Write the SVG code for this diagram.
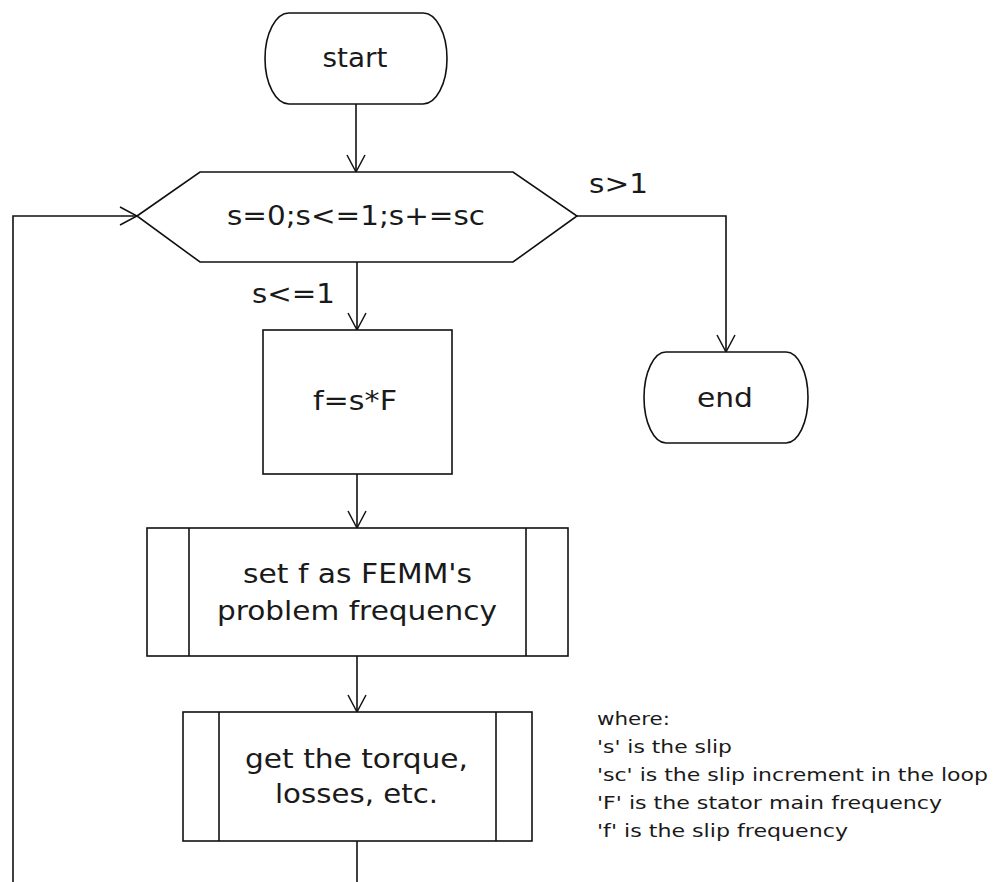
<svg xmlns="http://www.w3.org/2000/svg" width="1001" height="882" viewBox="0 0 1001 882">
<style>
  .shape { fill: #ffffff; stroke: #111111; stroke-width: 1.6; }
  .conn { fill: none; stroke: #111111; stroke-width: 1.6; }
  .lbl { font-family: "DejaVu Sans", "Liberation Sans", sans-serif; font-size: 27px; fill: #1a1a1a; text-anchor: middle; }
  .edge { font-family: "DejaVu Sans", "Liberation Sans", sans-serif; font-size: 27px; fill: #1a1a1a; }
  .note { font-family: "DejaVu Sans", "Liberation Sans", sans-serif; font-size: 18px; fill: #1a1a1a; }
</style>
<defs>
  <marker id="arr" markerUnits="userSpaceOnUse" markerWidth="24" markerHeight="24" refX="20" refY="12" orient="auto" overflow="visible">
    <path d="M3,3 L20,12 L3,21" fill="none" stroke="#111111" stroke-width="1.5"/>
  </marker>
</defs>
<rect x="0" y="0" width="1001" height="882" fill="#ffffff"/>

<g id="connectors">
  <path class="conn" d="M356,104 V172" marker-end="url(#arr)"/>
  <path class="conn" d="M357,262 V330" marker-end="url(#arr)"/>
  <path class="conn" d="M577,216 H726 V352" marker-end="url(#arr)"/>
  <path class="conn" d="M357,474 V528" marker-end="url(#arr)"/>
  <path class="conn" d="M357,656 V712" marker-end="url(#arr)"/>
  <path class="conn" d="M357,841 V882"/>
  <path class="conn" d="M13,882 V216 H137" marker-end="url(#arr)"/>
  <text class="edge" x="589" y="193" textLength="59" lengthAdjust="spacingAndGlyphs">s&gt;1</text>
  <text class="edge" x="252" y="303" textLength="83" lengthAdjust="spacingAndGlyphs">s&lt;=1</text>
</g>

<g id="start">
  <path class="shape" d="M289,13 H423 A24,45.5 0 0 1 423,104 H289 A24,45.5 0 0 1 289,13 Z"/>
  <text class="lbl" x="355" y="67" textLength="65" lengthAdjust="spacingAndGlyphs">start</text>
</g>

<g id="loop">
  <path class="shape" d="M137,216 L200,172 H513 L577,216 L513,262 H200 Z"/>
  <text class="lbl" x="356" y="225" textLength="258" lengthAdjust="spacingAndGlyphs">s=0;s&lt;=1;s+=sc</text>
</g>

<g id="end">
  <path class="shape" d="M666,352 H786 A22,45.5 0 0 1 786,443 H666 A22,45.5 0 0 1 666,352 Z"/>
  <text class="lbl" x="725" y="407" textLength="56" lengthAdjust="spacingAndGlyphs">end</text>
</g>

<g id="compute-f">
  <rect class="shape" x="263" y="330" width="189" height="144"/>
  <text class="lbl" x="355" y="410" textLength="84" lengthAdjust="spacingAndGlyphs">f=s*F</text>
</g>

<g id="set-frequency">
  <rect class="shape" x="147" y="528" width="421" height="128"/>
  <line class="shape" x1="189" y1="528" x2="189" y2="656"/>
  <line class="shape" x1="526" y1="528" x2="526" y2="656"/>
  <text class="lbl" x="357.5" y="583" textLength="229" lengthAdjust="spacingAndGlyphs">set f as FEMM's</text>
  <text class="lbl" x="357" y="620" textLength="280" lengthAdjust="spacingAndGlyphs">problem frequency</text>
</g>

<g id="get-torque">
  <rect class="shape" x="183" y="712" width="349" height="129"/>
  <line class="shape" x1="219" y1="712" x2="219" y2="841"/>
  <line class="shape" x1="496" y1="712" x2="496" y2="841"/>
  <text class="lbl" x="356.5" y="768" textLength="223" lengthAdjust="spacingAndGlyphs">get the torque,</text>
  <text class="lbl" x="356.5" y="803" textLength="163" lengthAdjust="spacingAndGlyphs">losses, etc.</text>
</g>

<g id="notes">
  <text class="note" x="597" y="725" textLength="73" lengthAdjust="spacingAndGlyphs">where:</text>
  <text class="note" x="597" y="753" textLength="135" lengthAdjust="spacingAndGlyphs">'s' is the slip</text>
  <text class="note" x="597" y="781" textLength="391" lengthAdjust="spacingAndGlyphs">'sc' is the slip increment in the loop</text>
  <text class="note" x="597" y="809" textLength="345" lengthAdjust="spacingAndGlyphs">'F' is the stator main frequency</text>
  <text class="note" x="597" y="837" textLength="251" lengthAdjust="spacingAndGlyphs">'f' is the slip frequency</text>
</g>
</svg>
